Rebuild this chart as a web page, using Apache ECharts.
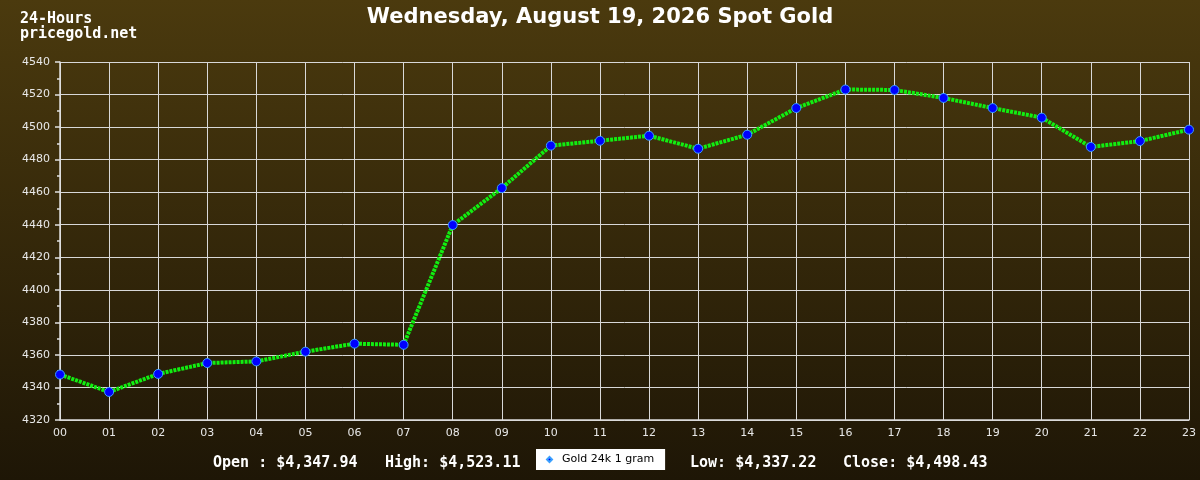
<!DOCTYPE html>
<html><head><meta charset="utf-8">
<script src="https://cdn.jsdelivr.net/npm/echarts@6/dist/echarts.min.js"></script>
<style>html,body{margin:0;padding:0;}#c{width:1200px;height:480px;}</style>
</head><body><div id="c"></div>
<script>
const hours = ['00','01','02','03','04','05','06','07','08','09','10','11','12','13','14','15','16','17','18','19','20','21','22','23'];
const goldPrices = [4347.94,4337.22,4348.3,4355.0,4356.0,4362.0,4366.9,4366.2,4439.8,4462.5,4488.6,4491.6,4494.7,4486.7,4495.3,4511.7,4523.11,4522.8,4517.9,4511.7,4505.8,4487.8,4491.4,4498.43];
const seriesName = 'Gold 24k 1 gram';
const titleText = 'Wednesday, August 19, 2026 Spot Gold';
const cornerLines = ['24-Hours','pricegold.net'];
const statLabels = ['Open : $4,347.94','High: $4,523.11','Low: $4,337.22','Close: $4,498.43'];

const chart = echarts.init(document.getElementById('c'));
const mono = '"DejaVu Sans Mono", "Liberation Mono", monospace';
chart.setOption({
  backgroundColor: {type:'linear',x:0,y:0,x2:0,y2:1,colorStops:[{offset:0,color:'#4b3a0e'},{offset:1,color:'#1e1606'}]},
  animation:false,
  title:{text:titleText,left:'center',top:2,textStyle:{color:'#ffffff',fontFamily:'DejaVu Sans',fontWeight:'bold',fontSize:21}},
  grid:{left:60,right:11,top:62,bottom:60,containLabel:false},
  legend:{data:[{name:seriesName,icon:'diamond',itemStyle:{color:'#0000ff'}}],left:536,top:449,backgroundColor:'#ffffff',padding:[5,11,5,10],itemWidth:5,itemHeight:5,itemGap:6,borderRadius:0,
    textStyle:{color:'#000000',fontFamily:'DejaVu Sans',fontSize:11,padding:[0,0,0,5]}},
  xAxis:{type:'category',data:hours,boundaryGap:false,
    axisLine:{show:true,lineStyle:{color:'#dcdcdc',width:1.5}},axisTick:{show:false},
    axisLabel:{color:'#e8e8e8',fontFamily:'DejaVu Sans',fontSize:11,margin:8,interval:0},
    splitLine:{show:true,lineStyle:{color:'#d8d8d8',width:1}}},
  yAxis:{type:'value',min:4320,max:4540,interval:20,
    axisLine:{show:true,lineStyle:{color:'#e0e0e0',width:1.5}},
    axisTick:{show:true,length:5,lineStyle:{color:'#e0e0e0',width:1.5}},
    minorTick:{show:true,splitNumber:2,length:3,lineStyle:{color:'#e0e0e0',width:1.5}},
    axisLabel:{color:'#e8e8e8',fontFamily:'DejaVu Sans',fontSize:11,margin:10,formatter:v=>String(v)},
    splitLine:{show:true,lineStyle:{color:'#d8d8d8',width:1}}},
  series:[{name:seriesName,type:'line',data:goldPrices,smooth:false,
    lineStyle:{color:'#11ee11',width:4,type:[3,1]},
    symbol:'circle',symbolSize:9,
    itemStyle:{color:'#0000ff',borderColor:'#3aa0ff',borderWidth:1},z:3}],
  graphic:[
    {type:'text',left:20,top:12,style:{text:cornerLines.join('\n'),fill:'#ffffff',font:'bold 15px '+mono,lineHeight:15}},
    {type:'text',left:213,top:456,style:{text:statLabels[0],fill:'#ffffff',font:'bold 15px '+mono}},
    {type:'text',left:385,top:456,style:{text:statLabels[1],fill:'#ffffff',font:'bold 15px '+mono}},
    {type:'text',left:690,top:456,style:{text:statLabels[2],fill:'#ffffff',font:'bold 15px '+mono}},
    {type:'text',left:843,top:456,style:{text:statLabels[3],fill:'#ffffff',font:'bold 15px '+mono}}
  ]
});
</script></body></html>
